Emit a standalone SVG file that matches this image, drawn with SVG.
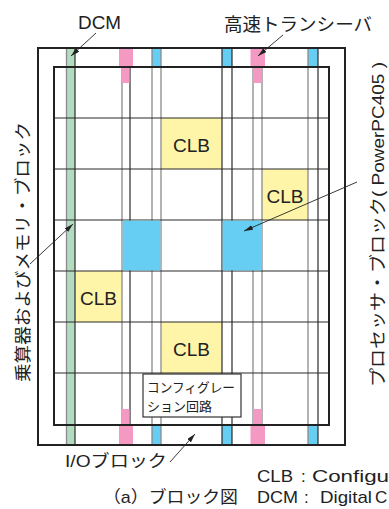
<svg xmlns="http://www.w3.org/2000/svg" width="389" height="509" viewBox="0 0 389 509">
<style>
.t{font-family:"Liberation Sans","Noto Sans CJK JP",sans-serif;fill:#222}
.lat{font-size:18px}
.jp{font-size:17px}
.clb{fill:#fff5a9}
.blu{fill:#66cdf3}
.pnk{fill:#f49ac2}
.grn{fill:#b3dbbf}
.vg{stroke:#8a8a8a;stroke-width:1.3}
.vd{stroke:#2a2a2a;stroke-width:1.2}
.h{stroke:#2a2a2a;stroke-width:1.2}
.frame{fill:none;stroke:#222;stroke-width:2}
.arr{stroke:#222;stroke-width:0.9;fill:none;marker-end:url(#ah)}
</style>
<defs>
<marker id="ah" markerUnits="userSpaceOnUse" markerWidth="10" markerHeight="6" refX="9" refY="2.5" orient="auto">
<path d="M0,0 L9,2.5 L0,5 z" fill="#222"/>
</marker>
</defs>
<rect width="389" height="509" fill="#fff"/>

<g id="fabric">
<rect class="grn" x="66.5" y="48" width="8.5" height="397"/>
<rect class="blu" x="152" y="48" width="9" height="19"/>
<rect class="blu" x="222" y="48" width="10" height="19"/>
<rect class="blu" x="308" y="48" width="10" height="19"/>
<rect class="blu" x="152" y="425" width="9" height="20"/>
<rect class="blu" x="222" y="425" width="10" height="20"/>
<rect class="blu" x="308" y="425" width="10" height="20"/>
</g>

<g id="clb1"><rect class="clb" x="161" y="118" width="61" height="51"/><text class="t lat" x="191.5" y="152" text-anchor="middle" textLength="37" lengthAdjust="spacingAndGlyphs">CLB</text></g>
<g id="clb2"><rect class="clb" x="262" y="169" width="46" height="51"/><text class="t lat" x="285" y="203" text-anchor="middle" textLength="37" lengthAdjust="spacingAndGlyphs">CLB</text></g>
<g id="clb3"><rect class="clb" x="75" y="271" width="47" height="51"/><text class="t lat" x="98.5" y="305" text-anchor="middle" textLength="37" lengthAdjust="spacingAndGlyphs">CLB</text></g>
<g id="clb4"><rect class="clb" x="161" y="322" width="61" height="51"/><text class="t lat" x="191.5" y="356" text-anchor="middle" textLength="37" lengthAdjust="spacingAndGlyphs">CLB</text></g>

<g id="grid">
<line class="vg" x1="66.5" y1="48" x2="66.5" y2="445"/>
<line class="vd" x1="75" y1="48" x2="75" y2="445"/>
<line class="vg" x1="122" y1="48" x2="122" y2="445"/>
<line class="vd" x1="130" y1="48" x2="130" y2="445"/>
<line class="vg" x1="152" y1="48" x2="152" y2="445"/>
<line class="vg" x1="161" y1="48" x2="161" y2="445"/>
<line class="vd" x1="222" y1="48" x2="222" y2="445"/>
<line class="vd" x1="232" y1="48" x2="232" y2="445"/>
<line class="vg" x1="253" y1="48" x2="253" y2="445"/>
<line class="vg" x1="262" y1="48" x2="262" y2="445"/>
<line class="vg" x1="308" y1="48" x2="308" y2="445"/>
<line class="vd" x1="318" y1="48" x2="318" y2="445"/>
<line class="h" x1="54" y1="118" x2="329" y2="118"/>
<line class="h" x1="54" y1="169" x2="329" y2="169"/>
<line class="h" x1="54" y1="220" x2="329" y2="220"/>
<line class="h" x1="54" y1="271" x2="329" y2="271"/>
<line class="h" x1="54" y1="322" x2="329" y2="322"/>
<line class="h" x1="54" y1="373" x2="329" y2="373"/>
</g>

<g id="ppc1"><rect class="blu" x="122.7" y="220.6" width="37.6" height="49.8"/></g>
<g id="ppc2"><rect class="blu" x="222.6" y="220.6" width="38.7" height="49.8"/></g>

<g id="mgt">
<rect class="pnk" x="119" y="48" width="14" height="19"/>
<rect class="pnk" x="121.5" y="67" width="8" height="16"/>
<rect class="pnk" x="250.5" y="48" width="14.5" height="19"/>
<rect class="pnk" x="253" y="67" width="8.5" height="16"/>
<rect class="pnk" x="121.5" y="409" width="8" height="16"/>
<rect class="pnk" x="119" y="425" width="14" height="20"/>
<rect class="pnk" x="253" y="409" width="8.5" height="16"/>
<rect class="pnk" x="250.5" y="425" width="14.5" height="20"/>
</g>

<g id="config">
<rect x="143" y="374" width="98" height="43" fill="#fff" stroke="#333" stroke-width="1.2"/>
<text class="t" x="147" y="392" font-size="13" textLength="88" lengthAdjust="spacingAndGlyphs">コンフィグレー</text>
<text class="t" x="147" y="411" font-size="13" textLength="65" lengthAdjust="spacingAndGlyphs">ション回路</text>
</g>

<g id="frames">
<rect class="frame" x="38" y="48" width="307" height="397"/>
<rect class="frame" x="54" y="67" width="275" height="358"/>
</g>

<g id="connectors">
<line class="arr" x1="96" y1="33" x2="71" y2="56"/>
<line class="arr" x1="283" y1="35" x2="258" y2="56"/>
<line class="arr" x1="30" y1="264" x2="73" y2="224"/>
<line class="arr" x1="357" y1="182" x2="244" y2="231"/>
<line class="arr" x1="170" y1="462" x2="195" y2="434"/>
</g>

<g id="labels">
<text class="t lat" x="99.5" y="29" text-anchor="middle" textLength="43" lengthAdjust="spacingAndGlyphs">DCM</text>
<text class="t lat" x="224" y="31" textLength="148" lengthAdjust="spacingAndGlyphs">高速トランシーバ</text>
<text class="t jp" transform="translate(29,252) rotate(-90)" text-anchor="middle" textLength="260" lengthAdjust="spacingAndGlyphs">乗算器およびメモリ・ブロック</text>
<text class="t jp" transform="translate(384,224.5) rotate(-90)" text-anchor="middle" textLength="325" lengthAdjust="spacingAndGlyphs">プロセッサ・ブロック( PowerPC405 )</text>
<text class="t jp" x="65" y="467" textLength="102" lengthAdjust="spacingAndGlyphs">I/Oブロック</text>
<text class="t jp" x="103" y="503" textLength="135" lengthAdjust="spacingAndGlyphs">（a）ブロック図</text>
<text class="t jp" x="257" y="482" textLength="36" lengthAdjust="spacingAndGlyphs">CLB</text>
<text class="t jp" x="301" y="482">:</text>
<text class="t jp" x="312" y="482" textLength="77" lengthAdjust="spacingAndGlyphs">Configu</text>
<text class="t jp" x="257" y="503" textLength="41" lengthAdjust="spacingAndGlyphs">DCM</text>
<text class="t jp" x="304" y="503">:</text>
<text class="t jp" x="320" y="503" textLength="52" lengthAdjust="spacingAndGlyphs">Digital</text>
<text class="t jp" x="375" y="503">C</text>
</g>
</svg>
